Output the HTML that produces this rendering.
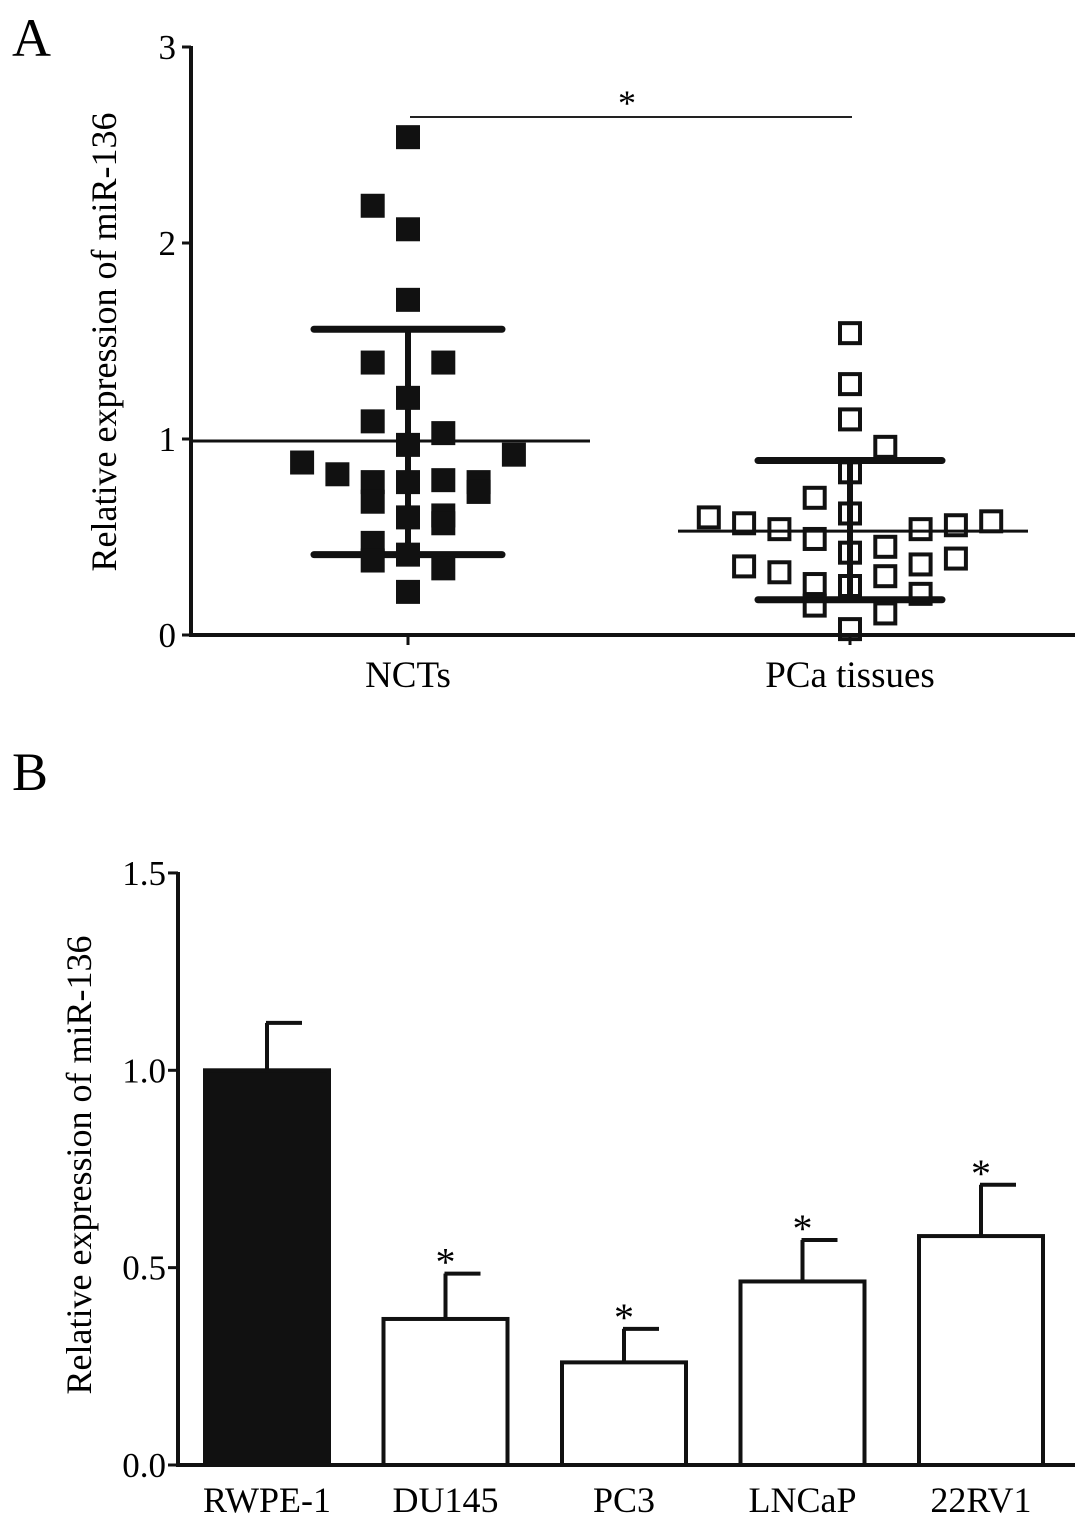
<!DOCTYPE html>
<html><head><meta charset="utf-8"><style>
html,body{margin:0;padding:0;background:#fff;}
svg{display:block;font-family:"Liberation Serif",serif;}
</style></head><body>
<svg id="chart" width="1087" height="1531" viewBox="0 0 1087 1531" xmlns="http://www.w3.org/2000/svg">
<text x="12" y="56" font-size="54">A</text>
<text x="12" y="790" font-size="54">B</text>
<g id="ga"></g>
<g id="gb"></g>
</svg>
<script>
// Panel A data
const groupsA = ["NCTs", "PCa tissues"];
const nctValues = [2.54,2.19,2.07,1.71,1.39,1.39,1.21,1.09,1.03,0.97,0.88,0.82,0.92,0.78,0.68,0.78,0.79,0.61,0.57,0.78,0.73,0.60,0.47,0.38,0.41,0.34,0.22];
const nctJitter = [0,-1,0,0,-1,1,0,-1,1,0,-3,-2,3,-1,-1,0,1,1,1,2,2,0,-1,-1,0,1,0];
const pcaValues = [1.54,1.28,1.10,0.96,0.83,0.70,0.62,0.60,0.57,0.54,0.49,0.42,0.45,0.54,0.56,0.58,0.39,0.36,0.35,0.32,0.26,0.25,0.30,0.21,0.15,0.11,0.03];
const pcaJitter = [0,0,0,1,0,-1,0,-4,-3,-2,-1,0,1,2,3,4,3,2,-3,-2,-1,0,1,2,-1,1,0];
const statsMean = [0.99, 0.53];
const statsSDhi = [1.56, 0.89];
const statsSDlo = [0.41, 0.18];
const ticksA = [0,1,2,3];
// Panel B data
const cellLines = ["RWPE-1","DU145","PC3","LNCaP","22RV1"];
const barValues = [1.0,0.37,0.26,0.465,0.58];
const barErrors = [0.12,0.115,0.085,0.105,0.13];
const barSignif = [false,true,true,true,true];
const ticksB = ["0.0","0.5","1.0","1.5"];

const NS="http://www.w3.org/2000/svg";
function mk(parent,tag,attrs,text){const e=document.createElementNS(NS,tag);for(const k in attrs)e.setAttribute(k,attrs[k]);if(text!==undefined)e.textContent=text;parent.appendChild(e);return e;}

// ---- Panel A ----
const ga=document.getElementById('ga');
const yA=v=>635-v*196;
const xA=i=>[408,850][i];
const step=35.3;
let e;
e=mk(ga,'path',{d:'M191,46 V635 H1075',fill:'none',stroke:'#111','stroke-width':4});


ticksA.forEach(t=>{
  e=mk(ga,'line',{x1:182,x2:191,y1:yA(t),y2:yA(t),stroke:'#111','stroke-width':3});
  
  
  e=mk(ga,'text',{x:176,y:yA(t)+12,'font-size':35,'text-anchor':'end'},String(t));
  
  
});
groupsA.forEach((g,i)=>{
  e=mk(ga,'line',{x1:xA(i),x2:xA(i),y1:635,y2:645,stroke:'#111','stroke-width':3});
  
  
  e=mk(ga,'text',{x:xA(i),y:687,'font-size':37,'text-anchor':'middle'},g);
  
  
});
e=mk(ga,'text',{transform:'translate(116,342) rotate(-90)','font-size':36,'text-anchor':'middle'},'Relative expression of miR-136');


// significance
e=mk(ga,'line',{x1:410,x2:852,y1:117,y2:117,stroke:'#222','stroke-width':2});


e=mk(ga,'text',{x:627,y:115,'font-size':36,'text-anchor':'middle'},'*');


// stats lines
const meanHalf=[205,172], sdHalf=[94,92];
[0,1].forEach(i=>{
  const x=xA(i);
  e=mk(ga,'line',{x1:x,x2:x,y1:yA(statsSDhi[i]),y2:yA(statsSDlo[i]),stroke:'#111','stroke-width':6});
  
  
  e=mk(ga,'line',{x1:x-sdHalf[i],x2:x+sdHalf[i],y1:yA(statsSDhi[i]),y2:yA(statsSDhi[i]),stroke:'#111','stroke-width':7,'stroke-linecap':'round'});
  
  
  e=mk(ga,'line',{x1:x-sdHalf[i],x2:x+sdHalf[i],y1:yA(statsSDlo[i]),y2:yA(statsSDlo[i]),stroke:'#111','stroke-width':7,'stroke-linecap':'round'});
  
  
  e=mk(ga,'line',{x1:i===0?193:678,x2:i===0?590:1028,y1:yA(statsMean[i]),y2:yA(statsMean[i]),stroke:'#111','stroke-width':3});
  
  
});
nctValues.forEach((v,k)=>{
  const cx=xA(0)+nctJitter[k]*step, cy=yA(v);
  e=mk(ga,'rect',{x:cx-12,y:cy-12,width:24,height:24,fill:'#111'});
  
  
});
pcaValues.forEach((v,k)=>{
  const cx=xA(1)+pcaJitter[k]*step, cy=yA(v);
  e=mk(ga,'rect',{x:cx-10,y:cy-10,width:20,height:20,fill:'none',stroke:'#111','stroke-width':4});
  
  
});

// ---- Panel B ----
const gb=document.getElementById('gb');
const yB=v=>1465-v*394.7;
const xB=i=>267+i*178.5;
e=mk(gb,'path',{d:'M178,872 V1465 H1075',fill:'none',stroke:'#111','stroke-width':4});


ticksB.forEach(t=>{
  const y=yB(parseFloat(t));
  e=mk(gb,'line',{x1:168,x2:178,y1:y,y2:y,stroke:'#111','stroke-width':3});
  
  
  e=mk(gb,'text',{x:166,y:y+12,'font-size':35,'text-anchor':'end'},t);
  
  
});
e=mk(gb,'text',{transform:'translate(91,1165) rotate(-90)','font-size':36,'text-anchor':'middle'},'Relative expression of miR-136');


cellLines.forEach((c,i)=>{
  const x=xB(i), v=barValues[i], top=yB(v), et=yB(v+barErrors[i]);
  e=mk(gb,'line',{x1:x,x2:x,y1:et,y2:top,stroke:'#111','stroke-width':4});
  
  
  e=mk(gb,'line',{x1:x-1,x2:x+35,y1:et,y2:et,stroke:'#111','stroke-width':4});
  
  
  e=mk(gb,'rect',{x:x-62,y:top,width:124,height:1465-top,fill:i===0?'#111':'#fff',stroke:'#111','stroke-width':4});
  
  
  if(barSignif[i]){
    e=mk(gb,'text',{x:x,y:et+2,'font-size':40,'text-anchor':'middle'},'*');
    
    
  }
  e=mk(gb,'text',{x:x,y:1512,'font-size':36,'text-anchor':'middle'},c);
  
  
});
</script>
</body></html>
